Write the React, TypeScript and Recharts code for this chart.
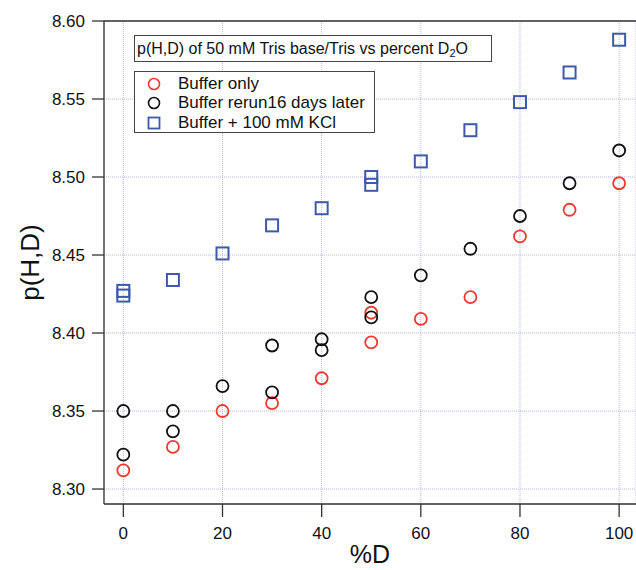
import React from "react";
import { ScatterChart, Scatter, XAxis, YAxis, CartesianGrid, ReferenceLine, Legend } from "recharts";

const FONT = "'Liberation Sans', Arial, sans-serif";

const xTicks = [0, 20, 40, 60, 80, 100];
const yTicks = [8.3, 8.35, 8.4, 8.45, 8.5, 8.55, 8.6];

// Buffer only
const redX = [0, 10, 20, 30, 40, 50, 50, 60, 70, 80, 90, 100];
const redY = [8.312, 8.327, 8.35, 8.355, 8.371, 8.394, 8.413, 8.409, 8.423, 8.462, 8.479, 8.496];

// Buffer rerun 16 days later
const blackX = [0, 0, 10, 10, 20, 30, 30, 40, 40, 50, 50, 60, 70, 80, 90, 100];
const blackY = [8.35, 8.322, 8.35, 8.337, 8.366, 8.392, 8.362, 8.396, 8.389, 8.423, 8.41, 8.437, 8.454, 8.475, 8.496, 8.517];

// Buffer + 100 mM KCl
const blueX = [0, 0, 10, 20, 30, 40, 50, 50, 60, 70, 80, 90, 100];
const blueY = [8.427, 8.424, 8.434, 8.451, 8.469, 8.48, 8.5, 8.495, 8.51, 8.53, 8.548, 8.567, 8.588];

const RED = "#ee3a2e";
const BLACK = "#111";
const BLUE = "#3d5aa8";

const toPts = (xs: number[], ys: number[]) => xs.map((x, i) => ({ x, y: ys[i] }));

const circle = (color: string) => (p: any) => (
  <circle cx={p.cx} cy={p.cy} r={6} fill="none" stroke={color} strokeWidth={1.8} />
);
const square = (p: any) => (
  <rect x={p.cx - 6} y={p.cy - 6} width={12} height={12} fill="none" stroke={BLUE} strokeWidth={2} />
);

const tick = { fontSize: 17, fill: "#111", fontFamily: FONT };
const gridColor = "#b4b4e6";

function LegendBox() {
  const rows = [
    { label: "Buffer only", mark: <circle cx={7} cy={7} r={5.5} fill="none" stroke={RED} strokeWidth={1.6} /> },
    { label: "Buffer rerun16 days later", mark: <circle cx={7} cy={7} r={5.5} fill="none" stroke={BLACK} strokeWidth={1.6} /> },
    { label: "Buffer + 100 mM KCl", mark: <rect x={1.5} y={1.5} width={11} height={11} fill="none" stroke={BLUE} strokeWidth={1.8} /> },
  ];
  return (
    <div style={{ fontFamily: FONT, color: "#111" }}>
      <div
        style={{
          position: "absolute", left: 134, top: 35, width: 358, height: 27,
          border: "1px solid #444", background: "#fff", fontSize: 16,
          lineHeight: "25px", paddingLeft: 2, boxSizing: "border-box", whiteSpace: "nowrap",
        }}
      >
        p(H,D) of 50 mM Tris base/Tris vs percent D<sub style={{ fontSize: 11, verticalAlign: "-3px" }}>2</sub>O
      </div>
      <div
        style={{
          position: "absolute", left: 134, top: 71, width: 241, height: 62,
          border: "1px solid #444", background: "#fff", boxSizing: "border-box", paddingTop: 2,
        }}
      >
        {rows.map((r) => (
          <div key={r.label} style={{ display: "flex", alignItems: "center", height: 19.5, fontSize: 17 }}>
            <svg width={14} height={14} style={{ marginLeft: 12, marginRight: 17 }}>{r.mark}</svg>
            <span style={{ whiteSpace: "nowrap" }}>{r.label}</span>
          </div>
        ))}
      </div>
    </div>
  );
}

export default function App() {
  return (
    <div style={{ position: "absolute", left: 0, top: 0, width: 636, height: 570, background: "#fff" }}>
      <ScatterChart width={636} height={570} margin={{ top: 21, right: 0, left: 0, bottom: 0 }}>
        <CartesianGrid stroke={gridColor} strokeDasharray="1 1" />
        <XAxis
          type="number" dataKey="x" domain={[-3.9, 103.4]} ticks={xTicks} allowDataOverflow
          height={66} tick={tick} tickSize={13} tickMargin={10}
          axisLine={{ stroke: "#333", strokeWidth: 1.3 }} tickLine={{ stroke: "#333", strokeWidth: 1.3 }}
          label={(p: any) => (
            <text x={p.viewBox.x + p.viewBox.width / 2} y={p.viewBox.y + 59} textAnchor="middle" fontSize={25} fontFamily={FONT} fill="#111">
              %D
            </text>
          )}
        />
        <YAxis
          type="number" dataKey="y" domain={[8.2904, 8.6]} ticks={yTicks} allowDataOverflow
          width={104} tick={tick} tickSize={12} tickMargin={7}
          tickFormatter={(v) => Number(v).toFixed(2)}
          axisLine={{ stroke: "#333", strokeWidth: 1.3 }} tickLine={{ stroke: "#333", strokeWidth: 1.3 }}
          label={(p: any) => {
            const cx = 30;
            const cy = p.viewBox.y + p.viewBox.height / 2;
            return (
              <text x={cx} y={cy} transform={`rotate(-90 ${cx} ${cy})`} textAnchor="middle" dominantBaseline="central" fontSize={26} fontFamily={FONT} fill="#111">
                p(H,D)
              </text>
            );
          }}
        />
        <ReferenceLine y={8.6} stroke="#333" strokeWidth={1.3} />
        <Legend content={() => <LegendBox />} wrapperStyle={{ position: "absolute", left: 0, top: 0, width: 0, height: 0 }} />
        <Scatter name="Buffer only" data={toPts(redX, redY)} shape={circle(RED)} isAnimationActive={false} />
        <Scatter name="Buffer rerun16 days later" data={toPts(blackX, blackY)} shape={circle(BLACK)} isAnimationActive={false} />
        <Scatter name="Buffer + 100 mM KCl" data={toPts(blueX, blueY)} shape={square} isAnimationActive={false} />
      </ScatterChart>
    </div>
  );
}
